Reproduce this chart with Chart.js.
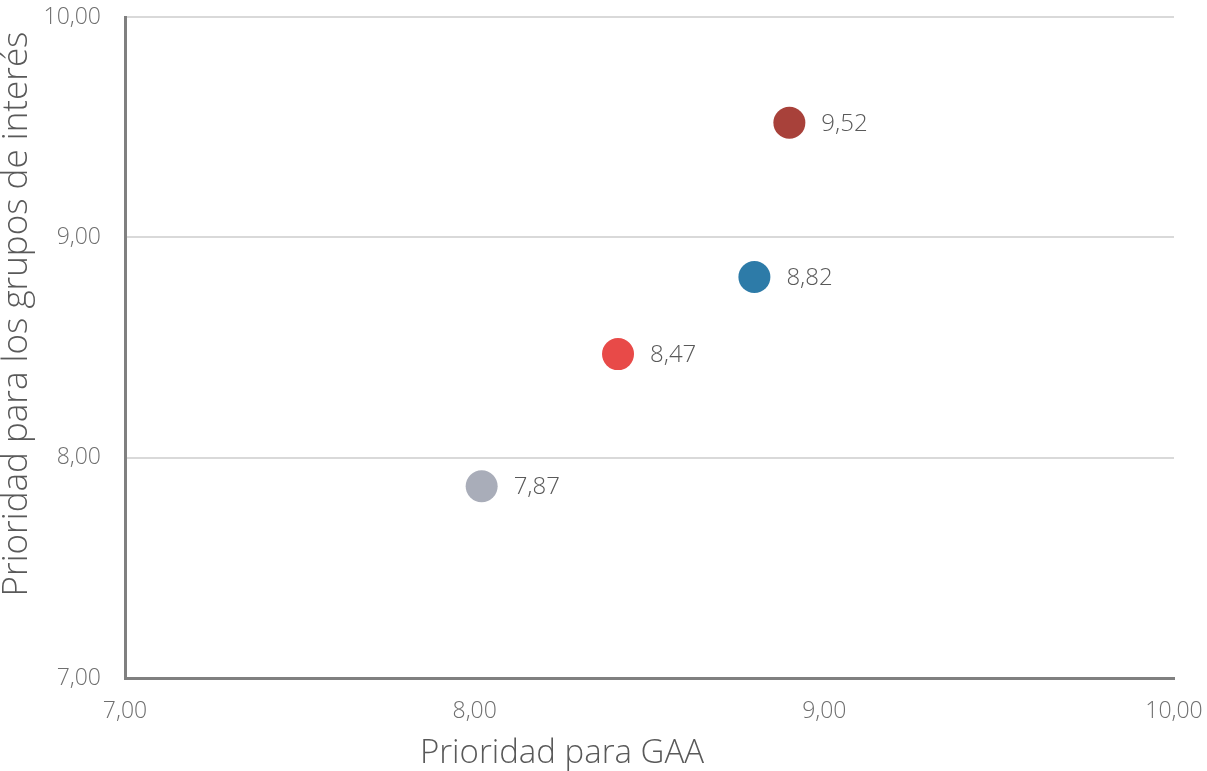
<!DOCTYPE html>
<html>
<head>
<meta charset="utf-8">
<script src="https://cdn.jsdelivr.net/npm/chart.js@4.4.1/dist/chart.umd.min.js"></script>
<style>
html,body{margin:0;padding:0;background:#fff;}
#wrap{width:1207px;height:771px;position:relative;}
</style>
</head>
<body>
<div id="wrap"><canvas id="c" width="1207" height="771"></canvas></div>
<script>
const xValues = [8.02, 8.41, 8.80, 8.90];
const yValues = [7.87, 8.47, 8.82, 9.52];
const pointLabels = ['7,87', '8,47', '8,82', '9,52'];
const pointColors = ['#a9adb9', '#e84a48', '#2d7ba8', '#a8413a'];
const axisMin = 7, axisMax = 10;
const xTitle = 'Prioridad para GAA';
const yTitle = 'Prioridad para los grupos de interés';

const FONT = "'Open Sans', 'DejaVu Sans', sans-serif";
const fmt = v => v.toFixed(2).replace('.', ',');

const labelPlugin = {
  id: 'pointLabels',
  afterDatasetsDraw(chart) {
    const ctx = chart.ctx;
    const meta = chart.getDatasetMeta(0);
    ctx.save();
    ctx.font = '300 24px ' + FONT;
    ctx.fillStyle = '#595959';
    ctx.textBaseline = 'middle';
    ctx.textAlign = 'left';
    meta.data.forEach((el, i) => {
      ctx.fillText(pointLabels[i], el.x + 32, el.y + 1);
    });
    ctx.restore();
  }
};

const titlePlugin = {
  id: 'axisTitles',
  afterDraw(chart) {
    const ctx = chart.ctx;
    ctx.save();
    ctx.fillStyle = '#595959';
    ctx.textAlign = 'center';
    ctx.textBaseline = 'middle';
    ctx.font = '300 33px ' + FONT;
    ctx.fillText(xTitle, 562, 754);
    ctx.font = '300 35px ' + FONT;
    ctx.translate(17, 314);
    ctx.rotate(-Math.PI / 2);
    ctx.fillText(yTitle, 0, 0);
    ctx.restore();
  }
};

new Chart(document.getElementById('c'), {
  type: 'scatter',
  data: {
    datasets: [{
      data: xValues.map((x, i) => ({x: x, y: yValues[i]})),
      backgroundColor: pointColors,
      borderColor: pointColors,
      pointRadius: 16,
      pointHoverRadius: 16,
      borderWidth: 0
    }]
  },
  options: {
    responsive: false,
    animation: false,
    events: [],
    layout: {padding: {top: 17, right: 33, left: 0, bottom: 0}},
    plugins: {legend: {display: false}, tooltip: {enabled: false}},
    scales: {
      x: {
        type: 'linear',
        min: axisMin, max: axisMax,
        ticks: {stepSize: 1, callback: fmt, color: '#6f6f6f', font: {family: FONT, size: 23, weight: '300'}, padding: 20, maxRotation: 0},
        grid: {display: false, drawTicks: false},
        border: {display: true, color: '#808080', width: 3},
        afterFit(s) { s.height = 93; s.paddingLeft = 0; s.paddingRight = 0; }
      },
      y: {
        type: 'linear',
        min: axisMin, max: axisMax,
        ticks: {stepSize: 1, callback: fmt, color: '#6f6f6f', font: {family: FONT, size: 23, weight: '300'}, padding: 24},
        grid: {color: '#d9d9d9', lineWidth: 2, drawTicks: false},
        border: {display: true, color: '#808080', width: 3},
        afterFit(s) { s.width = 125; s.paddingTop = 0; s.paddingBottom = 0; }
      }
    }
  },
  plugins: [labelPlugin, titlePlugin]
});
</script>
</body>
</html>
